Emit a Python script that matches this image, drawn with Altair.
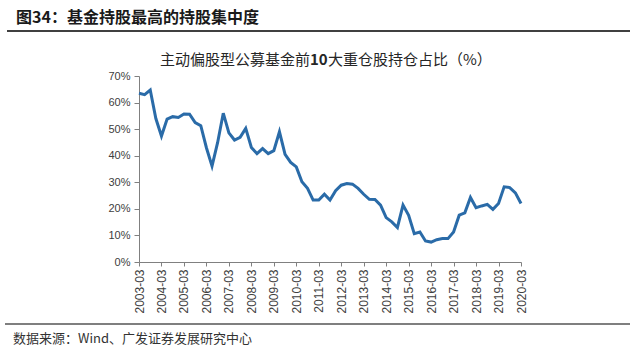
import altair as alt
import pandas as pd

# Quarter-end labels, 2003-03 through 2020-03
years = list(range(2003, 2021))
quarters = [f"{y}-{m:02d}" for y in years for m in (3, 6, 9, 12)][:69]
year_ticks = [f"{y}-03" for y in years]

# Top-10 holdings share of active equity funds (%)
share = [
    63.5, 63.0, 64.7, 54.0, 47.4, 53.8, 54.7, 54.4, 55.7, 55.6, 52.5, 51.3,
    43.0, 36.1, 45.0, 56.0, 48.6, 45.9, 46.9, 50.3, 43.1, 40.8, 42.7, 40.8,
    41.9, 49.0, 40.5, 37.5, 35.8, 30.2, 27.7, 23.3, 23.3, 25.5, 23.3, 26.8,
    28.9, 29.5, 29.3, 27.7, 25.5, 23.6, 23.5, 21.4, 16.7, 15.1, 13.0, 21.4,
    17.6, 10.7, 11.3, 7.9, 7.5, 8.4, 8.8, 8.8, 11.3, 17.6, 18.5, 24.3,
    20.4, 21.1, 21.7, 19.8, 22.0, 28.3, 28.0, 26.0, 22.0,
]

fig_title = "图34：基金持股最高的持股集中度"
chart_title_parts = ["主动偏股型公募基金前", "10", "大重仓股持仓占比（%）"]
source_note = "数据来源：Wind、广发证券发展研究中心"

df = pd.DataFrame({"quarter": quarters, "share": share})

AXIS_GRAY = "#808080"
LABEL_GRAY = "#404040"
CJK = "Noto Sans CJK SC"

line = alt.Chart(df).mark_line(color="#2a6ba8", strokeWidth=3).encode(
    x=alt.X(
        "quarter:O",
        sort=quarters,
        scale=alt.Scale(type="point", padding=0),
        axis=alt.Axis(
            values=year_ticks,
            labelAngle=270,
            labelFontSize=12,
            labelFont="Liberation Sans",
            labelColor=LABEL_GRAY,
            tickSize=4,
            tickColor=AXIS_GRAY,
            domainColor=AXIS_GRAY,
            labelPadding=3,
            title=None,
            grid=False,
        ),
    ),
    y=alt.Y(
        "share:Q",
        scale=alt.Scale(domain=[0, 70], nice=False),
        axis=alt.Axis(
            values=[0, 10, 20, 30, 40, 50, 60, 70],
            labelExpr="datum.value + '%'",
            labelFontSize=11,
            labelFont="Liberation Sans",
            labelColor=LABEL_GRAY,
            tickSize=5,
            tickColor=AXIS_GRAY,
            domainColor=AXIS_GRAY,
            labelPadding=4,
            title=None,
            grid=False,
        ),
    ),
)


def text_layer(txt, x, y, size, bold=False, align="left", color="#1a1a1a"):
    return alt.Chart(pd.DataFrame({"t": [txt]})).mark_text(
        align=align,
        baseline="middle",
        fontSize=size,
        font=CJK,
        fontWeight="bold" if bold else "normal",
        color=color,
    ).encode(text="t:N", x=alt.value(x), y=alt.value(y))


def hrule(x1, x2, y, width):
    return alt.Chart(pd.DataFrame({"a": [0]})).mark_rule(
        color="#000000", strokeWidth=width
    ).encode(x=alt.value(x1), x2=alt.value(x2), y=alt.value(y))


# Chart heading with the "10" set in bold
heading = alt.layer(
    text_layer(chart_title_parts[0], 21, -16, 15, color="#262626"),
    text_layer(chart_title_parts[1], 171, -16, 15, bold=True, color="#262626"),
    text_layer(chart_title_parts[2], 189, -16, 15, color="#262626"),
)

chart = alt.layer(
    line,
    text_layer(fig_title, -123, -58, 16, bold=True),
    hrule(-132, 491, -45, 1.5),
    heading,
    hrule(-134, 491, 248, 1.2),
    text_layer(source_note, -126, 263, 13, color="#333333"),
).properties(
    width=382,
    height=186,
    padding={"left": 139, "top": 76, "right": 115, "bottom": 88},
    autosize=alt.AutoSizeParams(type="none"),
    background="white",
).configure_view(stroke=None)

chart.save("out.html", embed_options={"renderer": "svg", "actions": False})
